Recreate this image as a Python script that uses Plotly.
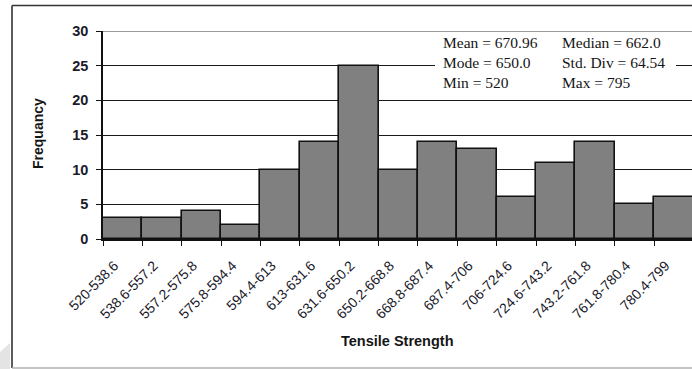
import plotly.graph_objects as go

# Tensile strength frequency table (class intervals and counts)
bins = ["520-538.6", "538.6-557.2", "557.2-575.8", "575.8-594.4", "594.4-613",
        "613-631.6", "631.6-650.2", "650.2-668.8", "668.8-687.4", "687.4-706",
        "706-724.6", "724.6-743.2", "743.2-761.8", "761.8-780.4", "780.4-799"]
counts = [3, 3, 4, 2, 10, 14, 25, 10, 14, 13, 6, 11, 14, 5, 6]

# Summary statistics shown in the inset box (two columns)
stats_left = ["Mean = 670.96", "Mode = 650.0", "Min = 520"]
stats_right = ["Median = 662.0", "Std. Div = 64.54", "Max = 795"]

y_ticks = [0, 5, 10, 15, 20, 25, 30]

W, H = 692, 369
ML, MR, MT, MB = 103, 0, 31, 130
PW, PH = W - ML - MR, H - MT - MB


def px_x(p):
    return (p - ML) / PW


def px_y(p):
    return (H - MB - p) / PH


fig = go.Figure(
    go.Bar(
        x=bins,
        y=counts,
        marker=dict(color="#808080", line=dict(color="#111111", width=1.6)),
        width=1.0,
    )
)

sans = "Liberation Sans, Arial, sans-serif"
serif = "Liberation Serif, Times New Roman, serif"

# slanted labels sit a little further down the diagonal than the tick itself
pad = "\u00a0" * 3
tick_text = [b + pad for b in bins]

fig.update_layout(
    width=W,
    height=H,
    margin=dict(l=ML, r=MR, t=MT, b=MB),
    paper_bgcolor="white",
    plot_bgcolor="white",
    bargap=0,
    showlegend=False,
    xaxis=dict(
        type="category",
        range=[-0.5, 14.46],
        tickson="boundaries",
        tickmode="array",
        tickvals=bins,
        ticktext=tick_text,
        ticks="outside",
        ticklen=5,
        tickwidth=1.2,
        tickcolor="#111111",
        showline=True,
        linecolor="#111111",
        linewidth=1.6,
        showgrid=False,
        tickangle=-45,
        ticklabelstandoff=3,
        tickfont=dict(family=sans, size=14, color="#1a1a2a"),
    ),
    yaxis=dict(
        range=[0, 30],
        tickvals=y_ticks,
        ticks="outside",
        ticklen=5,
        tickwidth=1.2,
        tickcolor="#111111",
        showline=True,
        linecolor="#111111",
        linewidth=1.6,
        showgrid=True,
        gridcolor="#1a1a1a",
        gridwidth=1.2,
        zeroline=False,
        ticklabelstandoff=5,
        tickfont=dict(family=sans, size=14.5, color="#1a1a2a", weight="bold"),
    ),
)

shapes = [
    # lighter top edge of the plotting area
    dict(type="line", xref="paper", yref="y", x0=0, x1=1, y0=30, y1=30,
         line=dict(color="#9a9a9a", width=2), layer="above"),
    # white box behind the summary statistics
    dict(type="rect", xref="paper", yref="paper",
         x0=px_x(435), x1=px_x(676), y0=px_y(97), y1=px_y(33),
         fillcolor="white", line=dict(width=0), layer="above"),
    # outer frame
    dict(type="line", xref="paper", yref="paper",
         x0=px_x(12), x1=px_x(12), y0=px_y(368), y1=px_y(5.5),
         line=dict(color="#333333", width=1.6)),
    dict(type="line", xref="paper", yref="paper",
         x0=px_x(12), x1=px_x(700), y0=px_y(5.5), y1=px_y(5.5),
         line=dict(color="#333333", width=1.6)),
    dict(type="line", xref="paper", yref="paper",
         x0=px_x(12), x1=px_x(700), y0=px_y(368), y1=px_y(368),
         line=dict(color="#b0b0b0", width=1.4)),
    # faint corner decoration at the lower left
    dict(type="path", xref="paper", yref="paper",
         path="M {} {} L {} {} L {} {} L {} {} Z".format(
             px_x(0), px_y(369), px_x(0), px_y(352),
             px_x(10), px_y(343), px_x(10), px_y(369)),
         fillcolor="#e4e4e4", line=dict(width=0)),
]
fig.update_layout(shapes=shapes)

annotations = []
row_y = [42, 62, 82]
for i in range(3):
    annotations.append(dict(
        text=stats_left[i], xref="paper", yref="paper",
        x=px_x(441), y=px_y(row_y[i]), xanchor="left", yanchor="middle",
        showarrow=False, font=dict(family=serif, size=15.5, color="#151515")))
    annotations.append(dict(
        text=stats_right[i], xref="paper", yref="paper",
        x=px_x(560), y=px_y(row_y[i]), xanchor="left", yanchor="middle",
        showarrow=False, font=dict(family=serif, size=15.5, color="#151515")))

annotations.append(dict(
    text="<b>Tensile Strength</b>", xref="paper", yref="paper",
    x=px_x(397.5), y=px_y(341), xanchor="center", yanchor="middle",
    showarrow=False, font=dict(family=sans, size=14.5, color="#151515")))
annotations.append(dict(
    text="<b>Frequancy</b>", xref="paper", yref="paper",
    x=px_x(38), y=px_y(134), xanchor="center", yanchor="middle",
    textangle=-90, showarrow=False,
    font=dict(family=sans, size=14, color="#151515")))

fig.update_layout(annotations=annotations)

fig.write_html("out.html")
